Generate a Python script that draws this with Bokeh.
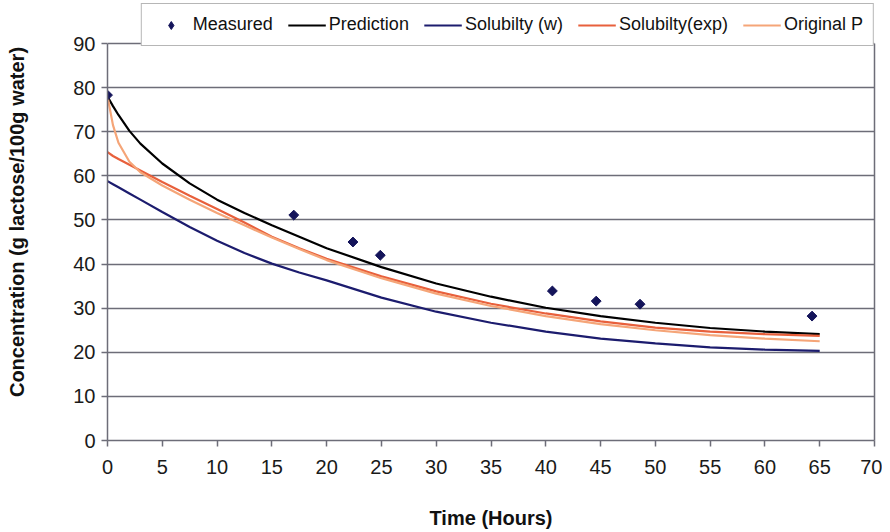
import math
from bokeh.plotting import figure
from bokeh.models import Legend, LegendItem, FixedTicker, Range1d, LinearAxis
from bokeh.embed import file_html
from bokeh.resources import INLINE

# ---- data ----
measured_t = [0, 17, 22.4, 24.9, 40.6, 44.6, 48.6, 64.3]
measured_c = [78.3, 51.1, 45.0, 42.0, 33.9, 31.6, 30.9, 28.2]

time_h = [0, 0.5, 1, 2, 3, 5, 7.5, 10, 12.5, 15, 17.5, 20, 25, 30, 35, 40, 45, 50, 55, 60, 65]
prediction = [78, 75.8, 73.8, 70.2, 67.3, 62.8, 58.3, 54.6, 51.6, 48.8, 46.2, 43.6, 39.3, 35.6,
              32.6, 30.1, 28.2, 26.7, 25.5, 24.7, 24.1]
solubility_w = [58.8, 58.1, 57.4, 56.0, 54.6, 51.8, 48.4, 45.3, 42.5, 40.1, 38.1, 36.3, 32.4, 29.2,
                26.7, 24.7, 23.1, 22.0, 21.1, 20.6, 20.3]
solubility_exp = [65.4, 64.5, 63.8, 62.5, 61.2, 58.6, 55.5, 52.5, 49.4, 46.2, 43.6, 41.2, 37.2, 33.8,
                  31.0, 28.8, 27.0, 25.6, 24.7, 24.1, 23.7]
original_p = [78, 71.5, 67.5, 63.2, 60.8, 57.8, 54.6, 51.6, 48.8, 46.0, 43.4, 40.9, 36.8, 33.3,
              30.5, 28.2, 26.4, 25.0, 23.9, 23.1, 22.5]

x_ticks = list(range(0, 71, 5))
y_ticks = list(range(0, 91, 10))
Y_AXIS_MAX = 90
Y_VIEW_MAX = 99.07   # headroom above the axis for the legend box

FONT = "Liberation Sans"
GRID = "#6d6d78"
NAVY = "#14145a"

p = figure(frame_width=767, frame_height=437, x_range=Range1d(0, 70), y_range=Range1d(0, Y_VIEW_MAX),
           output_backend="svg", toolbar_location=None,
           min_border_left=107, min_border_right=8, min_border_top=3, min_border_bottom=84)

p.background_fill_color = "white"
p.border_fill_color = "white"
p.outline_line_color = None

p.xgrid.visible = False
p.ygrid.grid_line_color = GRID
p.ygrid.grid_line_width = 1.5
p.ygrid.ticker = FixedTicker(ticks=y_ticks)

p.xaxis.ticker = FixedTicker(ticks=x_ticks)
p.yaxis.ticker = FixedTicker(ticks=y_ticks)
p.yaxis.bounds = (0, Y_AXIS_MAX)
for ax in (p.xaxis, p.yaxis):
    ax.minor_tick_line_color = None
    ax.major_tick_in = 0
    ax.major_tick_out = 6
    ax.major_tick_line_color = GRID
    ax.major_tick_line_width = 1.5
    ax.axis_line_color = GRID
    ax.axis_line_width = 1.5
    ax.major_label_text_font = FONT
    ax.major_label_text_font_size = "20px"
    ax.major_label_text_color = "#1a1a1a"
    ax.axis_label_text_font = FONT
    ax.axis_label_text_font_size = "20px"
    ax.axis_label_text_font_style = "bold"
    ax.axis_label_text_color = "#111111"

p.xaxis.axis_label = "Time (Hours)"
p.yaxis.axis_label = "Concentration (g lactose/100g water)"
p.xaxis.major_label_standoff = 13
p.xaxis.axis_label_standoff = 30
p.yaxis.major_label_standoff = 6
p.yaxis.axis_label_standoff = 42

# right-hand frame edge
right_edge = LinearAxis(ticker=FixedTicker(ticks=[]), bounds=(0, Y_AXIS_MAX))
right_edge.axis_line_color = GRID
right_edge.axis_line_width = 1.5
right_edge.major_tick_out = 0
right_edge.minor_tick_out = 0
right_edge.major_label_text_font_size = "0px"
p.add_layout(right_edge, "right")

r_pred = p.line(time_h, prediction, line_color="black", line_width=2.2)
r_w = p.line(time_h, solubility_w, line_color="#1c1c6e", line_width=2.2)
r_exp = p.line(time_h, solubility_exp, line_color="#e8603c", line_width=2.2)
r_orig = p.line(time_h, original_p, line_color="#f5a578", line_width=2.2)
r_meas = p.scatter(measured_t, measured_c, marker="square", size=7, angle=math.pi / 4,
                   fill_color=NAVY, line_color=NAVY)
# legend key proxy: one NaN (invisible) point so the legend shows a diamond glyph
r_meas_key = p.scatter([float("nan")], [float("nan")], marker="diamond", size=11,
                       fill_color=NAVY, line_color=NAVY)

legend = Legend(items=[
    LegendItem(label="Measured", renderers=[r_meas_key]),
    LegendItem(label="Prediction", renderers=[r_pred]),
    LegendItem(label="Solubilty (w)", renderers=[r_w]),
    LegendItem(label="Solubilty(exp)", renderers=[r_exp]),
    LegendItem(label="Original P", renderers=[r_orig]),
], orientation="horizontal", location="top_right")
legend.label_text_font = FONT
legend.label_text_font_size = "18px"
legend.label_text_color = "#111111"
legend.glyph_width = 38
legend.label_standoff = 3
legend.spacing = 15
legend.padding = 10
legend.margin = 0
legend.border_line_color = "#6d6d6d"
legend.border_line_width = 1.5
legend.background_fill_color = "white"
legend.background_fill_alpha = 1.0
p.add_layout(legend, "center")

open("out.html", "w").write(file_html(p, INLINE))
